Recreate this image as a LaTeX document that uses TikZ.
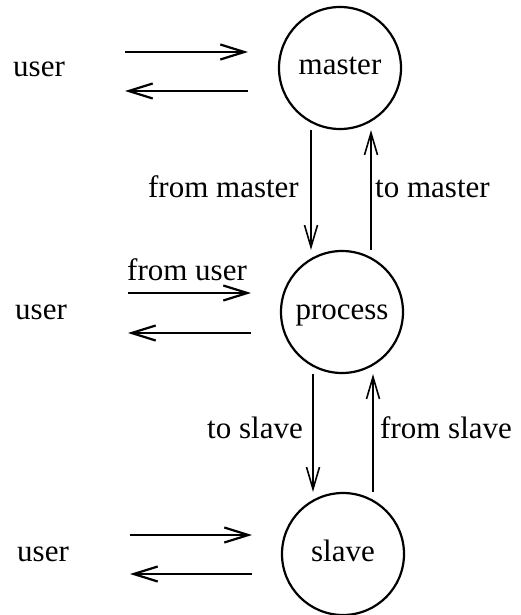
\documentclass[tikz,border=0pt]{standalone}
\usepackage{fontspec}
\setmainfont{Liberation Serif}
\usetikzlibrary{arrows.meta}
\begin{document}
\begin{tikzpicture}[x=1pt,y=-1pt,
  every node/.style={font=\fontsize{31}{36}\selectfont, inner sep=0pt},
  proc/.style={circle, draw, line width=2.2pt, minimum size=122pt,
               text height=14pt, text depth=0pt},
  flow/.style={line width=1.6pt, -{Straight Barb[length=22pt,width=13pt,line width=1.6pt]}},
  userflow/.style={line width=2.6pt, -{Straight Barb[length=24pt,width=15pt,line width=2.2pt]}},
  lbl/.style={anchor=base west},
  lblr/.style={anchor=base east}]
  \useasboundingbox (0,0) rectangle (521,615);

  % processes
  \node[proc] (m) at (340,68) {master};
  \node[proc] (p) at (342,312) {process};
  \node[proc] (s) at (343,554) {slave};

  % user terminals
  \node[lbl] (um) at (13,77) {user};
  \node[lbl] (up) at (15,319) {user};
  \node[lbl] (us) at (17,561) {user};

  % ends of the user data flows
  \coordinate (um-a) at (125,52);  \coordinate (m-a) at (248,52);
  \coordinate (m-b)  at (248,91);  \coordinate (um-b) at (125,91);
  \coordinate (up-a) at (128,293); \coordinate (p-a) at (251,293);
  \coordinate (p-b)  at (251,333); \coordinate (up-b) at (128,333);
  \coordinate (us-a) at (130,535); \coordinate (s-a) at (252,535);
  \coordinate (s-b)  at (252,574); \coordinate (us-b) at (130,574);

  \draw[userflow] (um-a) -- (m-a);
  \draw[userflow] (m-b) -- (um-b);
  \draw[userflow] (up-a) -- (p-a);
  \draw[userflow] (p-b) -- (up-b);
  \draw[userflow] (us-a) -- (s-a);
  \draw[userflow] (s-b) -- (us-b);

  % flows between the processes
  \draw[flow] ([xshift=-29pt]m.south) -- ([xshift=-31pt]p.north);
  \draw[flow] ([xshift=29pt]p.north) -- ([xshift=31pt]m.south);
  \draw[flow] ([xshift=-29pt]p.south) -- ([xshift=-30pt]s.north);
  \draw[flow] ([xshift=30pt]s.north) -- ([xshift=31pt]p.south);

  % flow labels
  \node[lblr] (l-fm) at (299,197) {from master};
  \node[lbl]  (l-tm) at (375,197) {to master};
  \node[lbl]  (l-fu) at (127,280) {from user};
  \node[lblr] (l-ts) at (303,438) {to slave};
  \node[lbl]  (l-fs) at (380,438) {from slave};
\end{tikzpicture}
\end{document}
